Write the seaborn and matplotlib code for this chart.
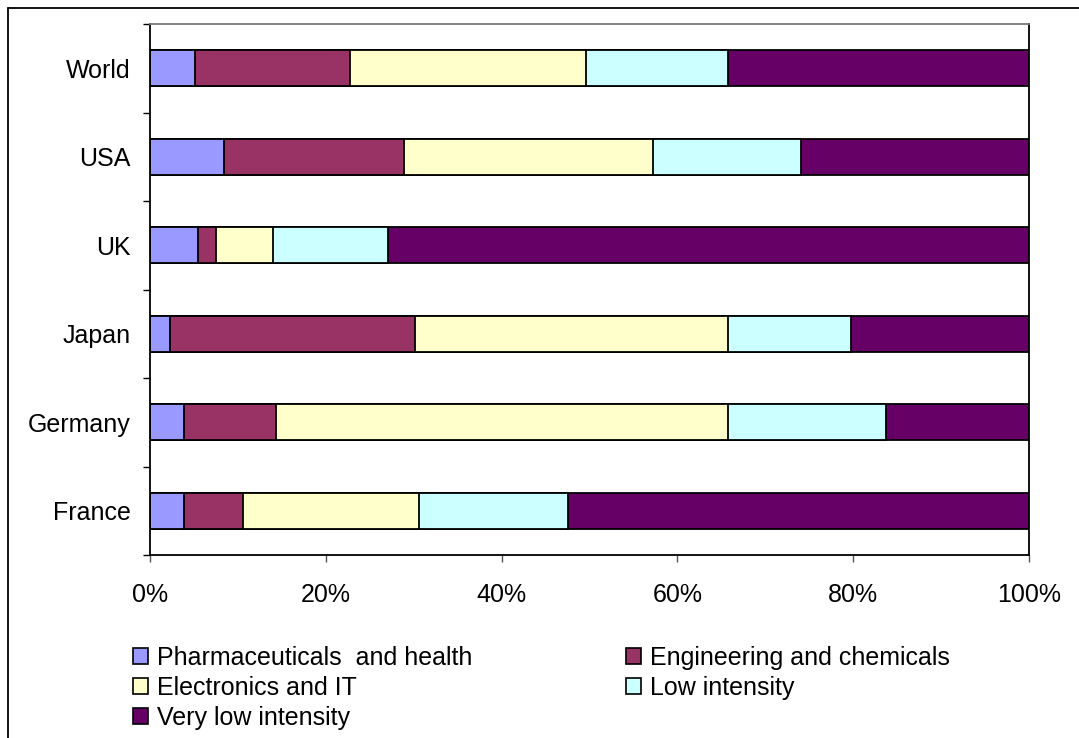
import matplotlib
matplotlib.use("Agg")
import matplotlib.pyplot as plt
import numpy as np
import pandas as pd
import seaborn as sns
from matplotlib.lines import Line2D
from matplotlib.patches import Patch
from matplotlib.ticker import FuncFormatter, MultipleLocator

COUNTRIES = ["World", "USA", "UK", "Japan", "Germany", "France"]
SECTORS = [
    "Pharmaceuticals  and health",
    "Engineering and chemicals",
    "Electronics and IT",
    "Low intensity",
    "Very low intensity",
]
PHARMA = [5.1, 8.4, 5.5, 2.3, 3.9, 3.9]
ENGINEERING = [17.6, 20.5, 2.0, 27.8, 10.4, 6.7]
ELECTRONICS = [26.9, 28.3, 6.5, 35.7, 51.5, 20.0]
LOW = [16.2, 16.9, 13.1, 14.0, 17.9, 17.0]
VERY_LOW = [34.2, 25.9, 72.9, 20.2, 16.3, 52.4]
COLORS = ["#9999FF", "#993366", "#FFFFCC", "#CCFFFF", "#660066"]


def main():
    sns.set_theme(style="white")
    plt.rcParams["font.family"] = ["Liberation Sans", "DejaVu Sans"]
    plt.rcParams["text.color"] = "black"

    df = pd.DataFrame(
        {"country": COUNTRIES, SECTORS[0]: PHARMA, SECTORS[1]: ENGINEERING,
         SECTORS[2]: ELECTRONICS, SECTORS[3]: LOW, SECTORS[4]: VERY_LOW}
    )
    shares = df[SECTORS].to_numpy()
    shares = shares / shares.sum(axis=1, keepdims=True) * 100
    cum = np.cumsum(shares, axis=1)

    fig = plt.figure(figsize=(10.79, 7.38), dpi=100)
    ax = fig.add_axes([150 / 1079, 1 - 555 / 738, (1029 - 150) / 1079, (555 - 24) / 738])

    # stacked bars: draw cumulative totals from the widest layer down
    for i in reversed(range(len(SECTORS))):
        sns.barplot(x=cum[:, i], y=df["country"], color=COLORS[i], width=0.41,
                    edgecolor="black", linewidth=1.3, saturation=1, ax=ax)

    ax.set_xlim(0, 100)
    ax.set_ylim(len(COUNTRIES) - 0.5, -0.5)
    ax.set_xlabel("")
    ax.set_ylabel("")
    ax.xaxis.set_major_locator(MultipleLocator(20))
    ax.xaxis.set_major_formatter(FuncFormatter(lambda v, _: f"{v:.0f}%"))
    ax.set_yticks(np.arange(len(COUNTRIES)))
    ax.set_yticklabels(COUNTRIES)
    ax.set_yticks(np.arange(-0.5, len(COUNTRIES)), minor=True)
    ax.tick_params(axis="y", which="major", length=0, pad=14, labelsize=18, colors="black")
    ax.tick_params(axis="y", which="minor", left=True, length=5, width=1, color="black")
    ax.tick_params(axis="x", bottom=True, length=5, width=1, pad=15, labelsize=18,
                   color="#555555", labelcolor="black")
    for side in ["left", "right", "top", "bottom"]:
        ax.spines[side].set_visible(True)
        ax.spines[side].set_color("black")
        ax.spines[side].set_linewidth(1.3)
    ax.spines["top"].set_color("#777777")

    handles = [Patch(facecolor=c, edgecolor="black", linewidth=1.2) for c in COLORS]
    order = [0, 2, 4, 1, 3]
    fig.legend([handles[k] for k in order], [SECTORS[k] for k in order],
               loc="upper left", bbox_to_anchor=(133 / 1079, 1 - 646 / 738),
               ncol=2, frameon=False, fontsize=18, handlelength=0.6, handleheight=0.6,
               handletextpad=0.35, columnspacing=6.15, labelspacing=0.24,
               borderaxespad=0, borderpad=0, labelcolor="black")

    # outer chart frame (top and left edges)
    fig.add_artist(Line2D([8 / 1079, 1.0], [1 - 8 / 738, 1 - 8 / 738],
                          color="black", linewidth=1.3, transform=fig.transFigure))
    fig.add_artist(Line2D([8 / 1079, 8 / 1079], [0, 1 - 8 / 738],
                          color="black", linewidth=1.3, transform=fig.transFigure))

    fig.savefig("out.png", dpi=100, facecolor="white")
    plt.close(fig)


if __name__ == "__main__":
    main()
